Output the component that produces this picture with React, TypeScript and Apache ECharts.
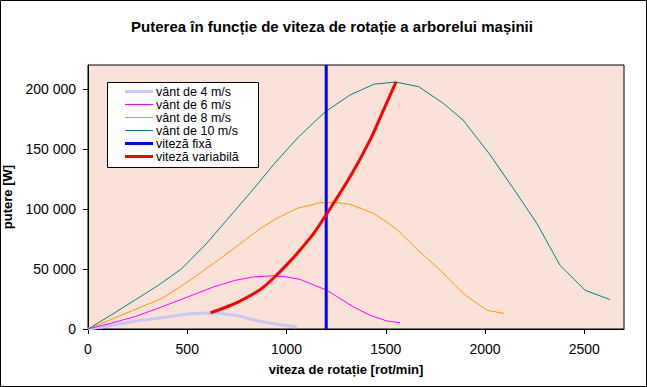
import React, { useEffect, useRef } from "react";
import * as echarts from "echarts";

const xTicks = [0, 500, 1000, 1500, 2000, 2500];
const yTicks = [0, 50000, 100000, 150000, 200000];

const seriesNames = ["vânt de 4 m/s", "vânt de 6 m/s", "vânt de 8 m/s", "vânt de 10 m/s", "viteză fixă", "viteză variabilă"];
const seriesColors = ["#c8c8f4", "#ff00ff", "#ff9900", "#008080", "#0000ff", "#ff0000"];
const seriesWidths = [3, 1, 1, 1, 3, 3];

const speed4 = [0, 62, 213, 398, 515, 616, 733, 884, 1052];
const power4 = [0, 1500, 5800, 10000, 12800, 13400, 11600, 5800, 1700];

const speed6 = [0, 120, 240, 372, 500, 632, 740, 834, 930, 1002, 1069, 1203, 1337, 1420, 1505, 1572];
const power6 = [0, 5000, 10500, 18500, 26500, 35100, 40500, 43400, 44300, 43400, 41300, 32300, 18400, 11500, 6700, 5300];

const speed8 = [0, 190, 372, 500, 632, 750, 868, 960, 1052, 1170, 1240, 1321, 1438, 1514, 1556, 1660, 1774, 1891, 2009, 2097];
const power8 = [0, 13000, 25400, 39000, 54600, 69000, 83800, 93000, 100500, 105200, 105600, 103900, 96400, 88000, 83000, 66000, 49000, 29500, 15600, 12900];

const speed10 = [0, 120, 240, 355, 470, 590, 700, 820, 940, 1060, 1195, 1320, 1440, 1550, 1665, 1790, 1890, 2026, 2143, 2261, 2378, 2504, 2630];
const power10 = [0, 12000, 24500, 36500, 50000, 70000, 91000, 114000, 138000, 160000, 181000, 195000, 204000, 205800, 202000, 188000, 174000, 145000, 117000, 88000, 53000, 32300, 24500];

const fixedSpeed = [1200, 1200];
const fixedPower = [0, 220000];

const variableSpeed = [617, 683, 750, 868, 935, 1035, 1069, 1136, 1195, 1321, 1421, 1489, 1552];
const variablePower = [13400, 17500, 22000, 33000, 42500, 59500, 66000, 79500, 94000, 127000, 157600, 182600, 206000];

const FONT = "'Liberation Sans', Arial, sans-serif";

const pairs = (xs: number[], ys: number[]) => xs.map((x, i) => [x, ys[i]]);
const fmt = (v: number) => String(v).replace(/\B(?=(\d{3})+(?!\d))/g, " ");

export default function App() {
  const ref = useRef<HTMLDivElement>(null);
  useEffect(() => {
    if (!ref.current) return;
    const chart = echarts.init(ref.current, undefined, { renderer: "svg" });
    const mk = (i: number, xs: number[], ys: number[], smooth: boolean) => ({
      name: seriesNames[i],
      type: "line",
      data: pairs(xs, ys),
      symbol: "none",
      smooth: smooth ? 0.3 : false,
      lineStyle: { color: seriesColors[i], width: seriesWidths[i] },
      itemStyle: { color: seriesColors[i] },
    });

    const legendBox = { x: 107, y: 82, w: 151, h: 85, row0: 91, rowStep: 13 };
    const legendChildren: any[] = [
      {
        type: "rect",
        shape: { x: legendBox.x + 0.5, y: legendBox.y + 0.5, width: legendBox.w, height: legendBox.h },
        style: { fill: "#ffffff", stroke: "#000", lineWidth: 1 },
      },
    ];
    seriesNames.forEach((n, i) => {
      const cy = legendBox.row0 + i * legendBox.rowStep + 0.5;
      legendChildren.push({
        type: "line",
        shape: { x1: 125, y1: cy, x2: 153, y2: cy },
        style: { stroke: seriesColors[i], lineWidth: seriesWidths[i] },
      });
      legendChildren.push({
        type: "text",
        x: 156,
        y: cy,
        style: {
          text: n,
          fill: "#000",
          font: `12.5px ${FONT}`,
          lineHeight: 12,
          verticalAlign: "middle",
          align: "left",
        },
      });
    });

    chart.setOption({
      animation: false,
      backgroundColor: "#ffffff",
      textStyle: { fontFamily: FONT },
      title: {
        text: "Puterea în funcție de viteza de rotație a arborelui mașinii",
        left: 332,
        top: 19,
        padding: 0,
        textAlign: "center",
        textStyle: { fontFamily: FONT, fontSize: 15, fontWeight: "bold", color: "#000" },
      },
      graphic: [
        {
          type: "rect",
          shape: { x: 0.5, y: 0.5, width: 646, height: 386 },
          style: { fill: "none", stroke: "#000", lineWidth: 1 },
          silent: true,
          z: 100,
        },
        { type: "group", z: 100, silent: true, children: legendChildren },
      ],
      grid: {
        left: 88,
        right: 23,
        top: 65,
        bottom: 58,
        containLabel: false,
        outerBoundsMode: "none",
        show: true,
        backgroundColor: "#fae2d9",
        borderColor: "#000",
        borderWidth: 1,
      },
      xAxis: {
        type: "value",
        min: 0,
        max: 2700,
        interval: 500,
        name: "viteza de rotație [rot/min]",
        nameLocation: "middle",
        nameGap: 34,
        nameTextStyle: { fontFamily: FONT, fontSize: 13, fontWeight: "bold", color: "#000", padding: [0, 20, 0, 0] },
        axisLine: { show: true, lineStyle: { color: "#000", width: 1 } },
        axisTick: { show: true, length: 5, inside: false, lineStyle: { color: "#000" }, customValues: xTicks },
        axisLabel: { margin: 13, fontFamily: FONT, fontSize: 14, color: "#000", customValues: xTicks, formatter: (v: number) => String(v) },
        splitLine: { show: false },
      },
      yAxis: {
        type: "value",
        min: 0,
        max: 220000,
        interval: 50000,
        name: "putere [W]",
        nameLocation: "middle",
        nameGap: 64,
        nameRotate: 90,
        nameTextStyle: { fontFamily: FONT, fontSize: 13, fontWeight: "bold", color: "#000" },
        axisLine: { show: true, lineStyle: { color: "#000", width: 1 } },
        axisTick: { show: true, length: 5, inside: false, lineStyle: { color: "#000" }, customValues: yTicks },
        axisLabel: { margin: 12, fontFamily: FONT, fontSize: 14, color: "#000", customValues: yTicks, formatter: (v: number) => fmt(v) },
        splitLine: { show: false },
      },
      series: [
        mk(0, speed4, power4, true),
        mk(1, speed6, power6, false),
        mk(2, speed8, power8, false),
        mk(3, speed10, power10, false),
        mk(4, fixedSpeed, fixedPower, false),
        mk(5, variableSpeed, variablePower, true),
      ],
    });
    return () => chart.dispose();
  }, []);
  return (
    <div
      ref={ref}
      style={{ position: "absolute", left: 0, top: 0, width: 647, height: 387 }}
    />
  );
}
